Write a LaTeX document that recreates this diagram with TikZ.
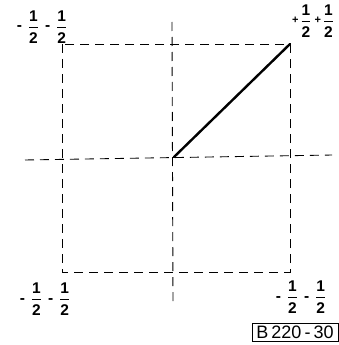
\documentclass[tikz,border=0pt]{standalone}
\usepackage{fontspec}
\setmainfont{Liberation Sans}
\newcommand\hlf{{\displaystyle{\mbox{1}\above1.4pt\mbox{2}}}}
\newcommand\mn{\mbox{-}}
\newcommand\pl{\raisebox{1.5pt}{\mbox{\fontsize{11}{11}\selectfont+}}}
\newcommand\gp{\hspace{6pt}}
\tikzset{
  dsh/.style={line width=0.9pt, dash pattern=on 9pt off 6pt},
  vec/.style={line width=2.4pt, line cap=round},
  lbl/.style={inner sep=0pt, anchor=base, font=\fontsize{15.5}{17}\selectfont\bfseries}
}
\begin{document}
\begin{tikzpicture}[x=1pt,y=-1pt]
\useasboundingbox (0,0) rectangle (339,345);
\coordinate (hl) at (25,160);
\coordinate (hr) at (332,155);
\coordinate (vt) at (172,22);
\coordinate (vb) at (173,305);
\coordinate (o) at (174,157);
\coordinate (sq1) at (62,44);
\coordinate (sq2) at (290,272);
\coordinate (p) at (290,44);
\draw[dsh] (hl) -- (hr);
\draw[dsh] (vt) -- (vb);
\draw[dsh] (sq1) rectangle (sq2);
\draw[vec] (o) -- (p);
\node[lbl] (tl) at (42,31) {$\mn\gp\hlf\gp\mn\gp\hlf$};
\node[lbl] (tr) at (313,25) {$\pl\hspace{2pt}\hlf\hspace{3pt}\pl\hspace{2pt}\hlf$};
\node[lbl] (bl) at (45,303) {$\mn\gp\hlf\gp\mn\gp\hlf$};
\node[lbl] (br) at (301,301) {$\mn\gp\hlf\gp\mn\gp\hlf$};
\node[draw, line width=0.9pt, inner sep=0pt, minimum width=86pt, minimum height=18pt, font=\fontsize{18}{19}\selectfont] (tag) at (295,332) {B\,220\,-\,30};
\end{tikzpicture}
\end{document}
